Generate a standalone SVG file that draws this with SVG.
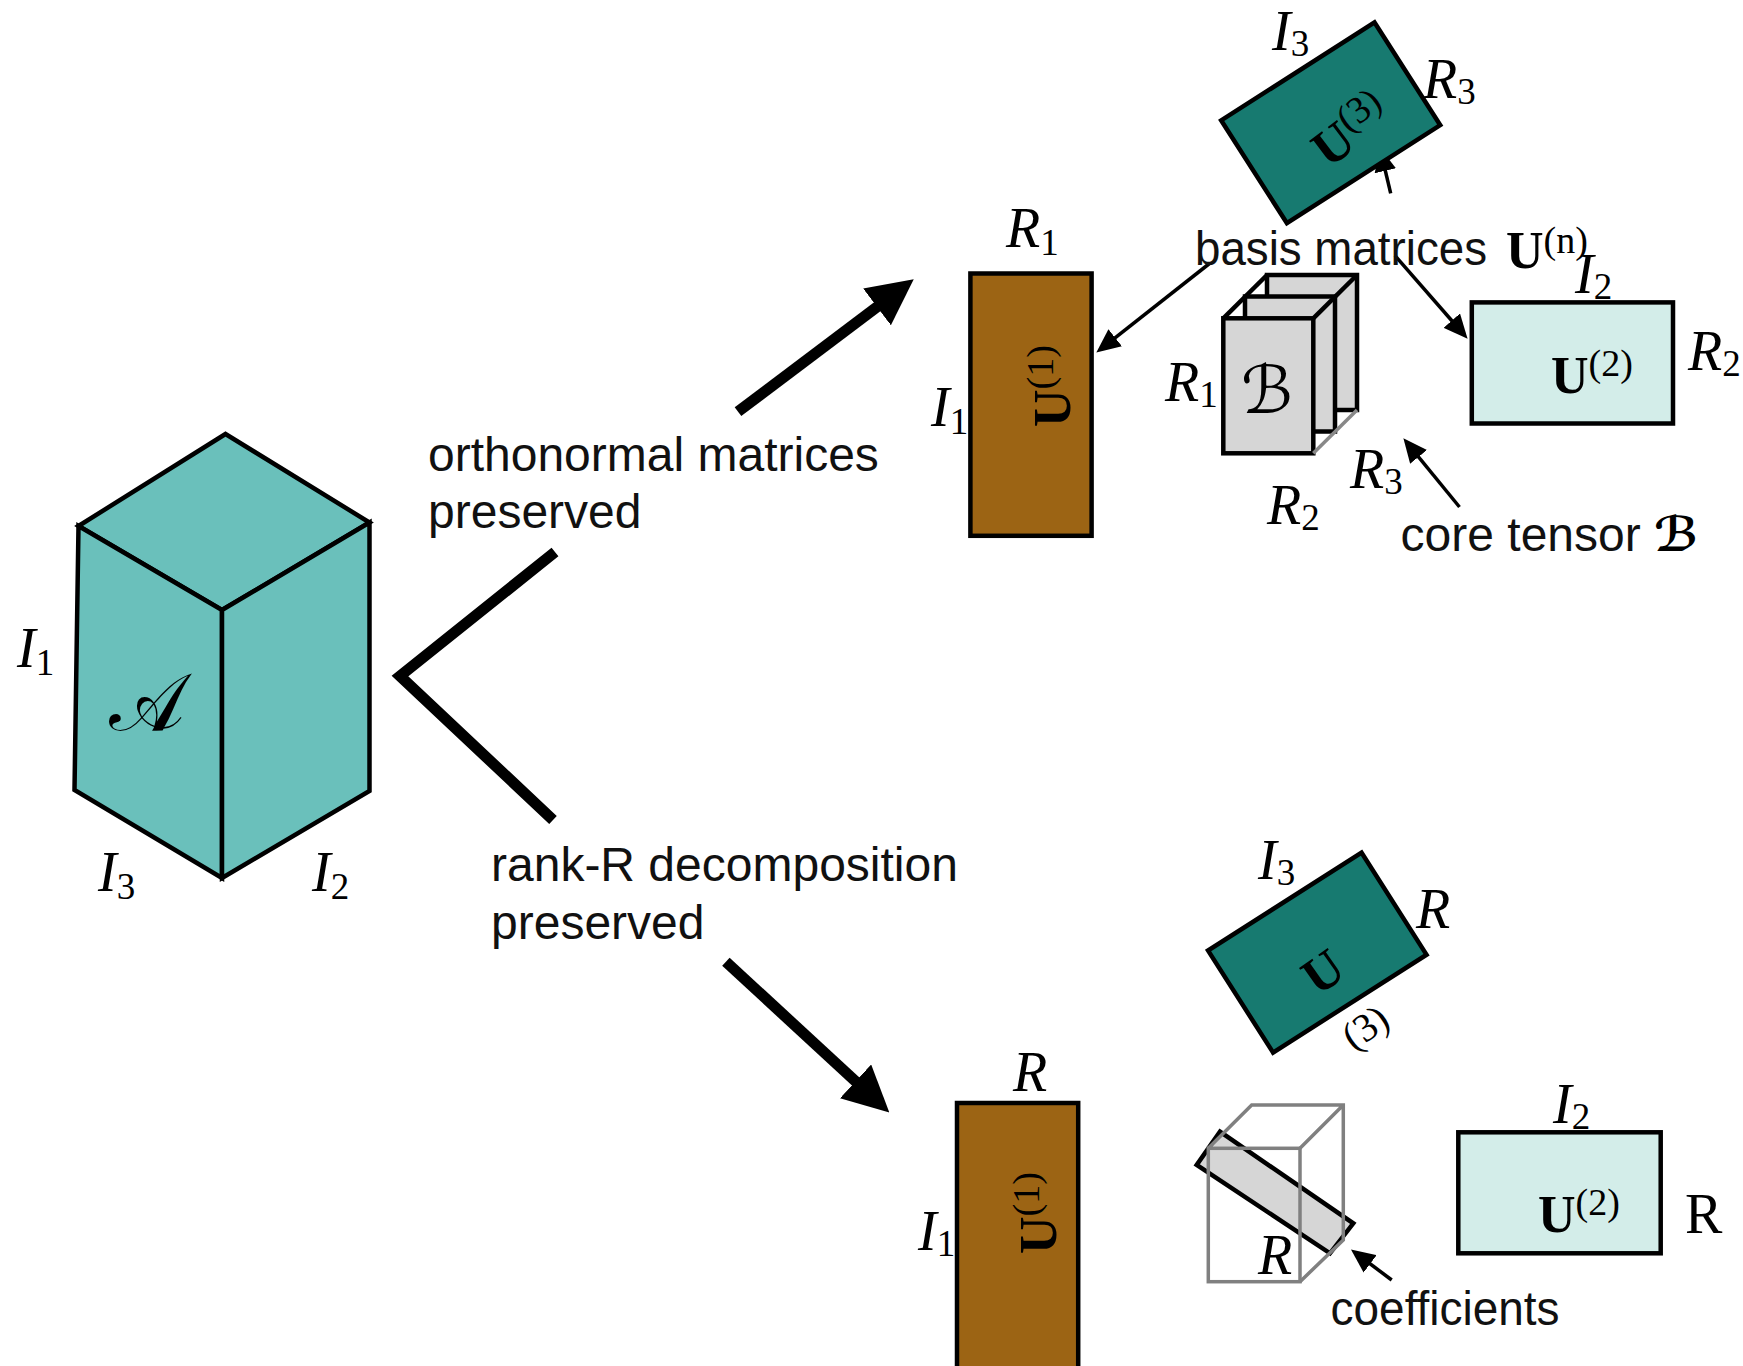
<svg xmlns="http://www.w3.org/2000/svg" width="1743" height="1366" viewBox="0 0 1743 1366">
<defs>
<style>
.lbl{font-family:"Liberation Sans",Arial,sans-serif;font-size:48px;fill:#111}
.m{font-family:"Liberation Serif","Times New Roman",serif;font-style:italic;font-size:56px;fill:#000}
.up{font-style:normal}
.sub{font-style:normal;font-size:37px}
.U{font-family:"Liberation Serif","Times New Roman",serif;font-weight:bold;font-size:52px;fill:#000}
.sup{font-weight:normal;font-size:38px}
.plain{font-family:"Liberation Serif","Times New Roman",serif;font-weight:normal;font-size:40px;fill:#000}
.scr{font-family:"DejaVu Sans","DejaVu Serif",serif;fill:#000}
.ed{stroke:#000;stroke-width:4.5;stroke-linejoin:miter}
.gr{fill:none;stroke:#808080;stroke-width:3.5}
.thick{fill:none;stroke:#000;stroke-width:11;stroke-linejoin:miter;stroke-miterlimit:10}
.thin{fill:none;stroke:#000;stroke-width:3.5}
</style>
<marker id="bigHead" markerUnits="userSpaceOnUse" markerWidth="46" markerHeight="46" viewBox="0 0 44 44" refX="14" refY="22" orient="auto"><path d="M0,0 L44,22 L0,44 Z" fill="#000"/></marker>
<marker id="smallHead" markerUnits="userSpaceOnUse" markerWidth="24" markerHeight="22" viewBox="0 0 22 20" refX="12" refY="10" orient="auto"><path d="M0,0 L22,10 L0,20 Z" fill="#000"/></marker>
</defs>
<rect width="1743" height="1366" fill="#fff"/>

<g id="node-tensorA">
<polygon class="ed" fill="#6ac0bb" points="225.5,434 369.5,522.5 222,610 78.5,526"/>
<polygon class="ed" fill="#6ac0bb" points="78.5,526 222,610 222,878 74.5,790"/>
<polygon class="ed" fill="#6ac0bb" points="222,610 369.5,522.5 369.5,791 222,878"/>
<text class="scr" x="147" y="730" font-size="80" text-anchor="middle">𝒜</text>
<text class="m" x="17" y="667">I<tspan class="sub" dy="8">1</tspan></text>
<text class="m" x="98" y="891">I<tspan class="sub" dy="8">3</tspan></text>
<text class="m" x="312" y="891">I<tspan class="sub" dy="8">2</tspan></text>
</g>

<g id="connectors">
<polyline class="thick" points="555,552 400,676 553,820"/>
<path class="thick" d="M738,411.7 L888.7,298.1" marker-end="url(#bigHead)"/>
<path class="thick" d="M725.9,961.7 L866.3,1091.3" marker-end="url(#bigHead)"/>
<path class="thin" d="M1209.5,263.5 L1104.9,345.8" marker-end="url(#smallHead)"/>
<path class="thin" d="M1395,255.7 L1460.4,330.5" marker-end="url(#smallHead)"/>
<path class="thin" d="M1390.7,193.3 L1382.3,158" marker-end="url(#smallHead)"/>
<path class="thin" d="M1459.5,507 L1410.3,446.8" marker-end="url(#smallHead)"/>
<path class="thin" d="M1391.7,1280 L1359.7,1256" marker-end="url(#smallHead)"/>
</g>

<g id="labels-edges">
<text class="lbl" x="428" y="471">orthonormal matrices</text>
<text class="lbl" x="428" y="528">preserved</text>
<text class="lbl" x="491" y="881">rank-R decomposition</text>
<text class="lbl" x="491" y="939">preserved</text>
</g>

<g id="node-U1-top">
<rect class="ed" fill="#9c6414" x="970.4" y="273.5" width="121.2" height="262.3"/>
<text class="U" transform="translate(1070,427) rotate(-90)">U<tspan class="sup" dy="-17">(1)</tspan></text>
<text class="m" x="1006" y="247">R<tspan class="sub" dy="8">1</tspan></text>
<text class="m" x="931" y="426">I<tspan class="sub" dy="8">1</tspan></text>
</g>

<g id="node-U3-top">
<rect class="ed" fill="#177a70" transform="translate(1330.7,122.8) rotate(-32.6)" x="-91" y="-61" width="182" height="122"/>
<text class="U" transform="translate(1328.6,169.1) rotate(-37)">U<tspan class="sup" dy="-17">(3)</tspan></text>
<text class="m" x="1272" y="50">I<tspan class="sub" dy="6">3</tspan></text>
<text class="m" x="1423" y="98">R<tspan class="sub" dy="6">3</tspan></text>
</g>

<g id="node-basis-label">
<text class="lbl" x="1195" y="265" font-size="45" textLength="292" lengthAdjust="spacingAndGlyphs">basis matrices</text>
<text class="U" x="1506" y="268" font-size="44">U<tspan class="sup" font-size="28" dy="-15">(n)</tspan></text>
</g>

<g id="node-core">
<rect class="ed" fill="#d6d6d6" x="1267" y="275" width="90" height="135"/>
<rect class="ed" fill="#d6d6d6" x="1245" y="296.5" width="90" height="135"/>
<rect class="ed" fill="#d6d6d6" x="1223.3" y="318.3" width="90" height="135"/>
<line class="ed" x1="1223.3" y1="318.3" x2="1267" y2="275"/>
<line class="ed" x1="1313.3" y1="318.3" x2="1357" y2="275"/>
<line stroke="#888" stroke-width="3.5" x1="1313.3" y1="453.3" x2="1357" y2="410"/>
<text class="scr" x="1267" y="413" font-size="66" text-anchor="middle" font-style="italic">ℬ</text>
<text class="m" x="1165" y="401">R<tspan class="sub" dy="6">1</tspan></text>
<text class="m" x="1267" y="524">R<tspan class="sub" dy="6">2</tspan></text>
<text class="m" x="1350" y="488">R<tspan class="sub" dy="6">3</tspan></text>
<text class="lbl" x="1400.6" y="551" font-size="44">core tensor <tspan class="scr" font-weight="bold" font-style="italic" font-size="48">ℬ</tspan></text>
</g>

<g id="node-U2-top">
<rect class="ed" fill="#d3ede9" x="1471.8" y="302.4" width="201.2" height="121.1"/>
<text class="U" x="1551" y="393">U<tspan class="sup" dy="-17">(2)</tspan></text>
<text class="m" x="1575" y="293">I<tspan class="sub" dy="6">2</tspan></text>
<text class="m" x="1688" y="370">R<tspan class="sub" dy="6">2</tspan></text>
</g>

<g id="node-U3-bot">
<rect class="ed" fill="#177a70" transform="translate(1317.3,952.6) rotate(-32.5)" x="-91" y="-60.5" width="182" height="121"/>
<text class="U" font-size="56" transform="translate(1317.5,996.7) rotate(-35)">U</text>
<text class="plain" transform="translate(1353.8,1051.5) rotate(-35)">(3)</text>
<text class="m" x="1258" y="879">I<tspan class="sub" dy="6">3</tspan></text>
<text class="m" x="1416" y="928">R</text>
</g>

<g id="node-U1-bot">
<rect class="ed" fill="#9c6414" x="957" y="1103" width="121.2" height="270"/>
<text class="U" transform="translate(1056,1254) rotate(-90)">U<tspan class="sup" dy="-17">(1)</tspan></text>
<text class="m" x="1013" y="1091">R</text>
<text class="m" x="918" y="1250">I<tspan class="sub" dy="6">1</tspan></text>
</g>

<g id="node-coef">
<polygon class="ed" fill="#d6d6d6" points="1220,1131.7 1353.3,1223.3 1330,1253.3 1196.7,1165"/>
<rect class="gr" x="1208.3" y="1148.3" width="91.7" height="133.4"/>
<path class="gr" d="M1208.3,1148.3 L1251.7,1105 L1343.3,1105 L1343.3,1240 L1300,1281.7 M1300,1148.3 L1343.3,1105"/>
<text class="m" x="1258" y="1274">R</text>
<text class="lbl" x="1330.6" y="1325" font-size="45" textLength="229" lengthAdjust="spacingAndGlyphs">coefficients</text>
</g>

<g id="node-U2-bot">
<rect class="ed" fill="#d3ede9" x="1458.3" y="1132.3" width="202.4" height="121"/>
<text class="U" x="1538" y="1232">U<tspan class="sup" dy="-17">(2)</tspan></text>
<text class="m" x="1553" y="1123">I<tspan class="sub" dy="6">2</tspan></text>
<text class="m up" x="1685" y="1233">R</text>
</g>
</svg>
